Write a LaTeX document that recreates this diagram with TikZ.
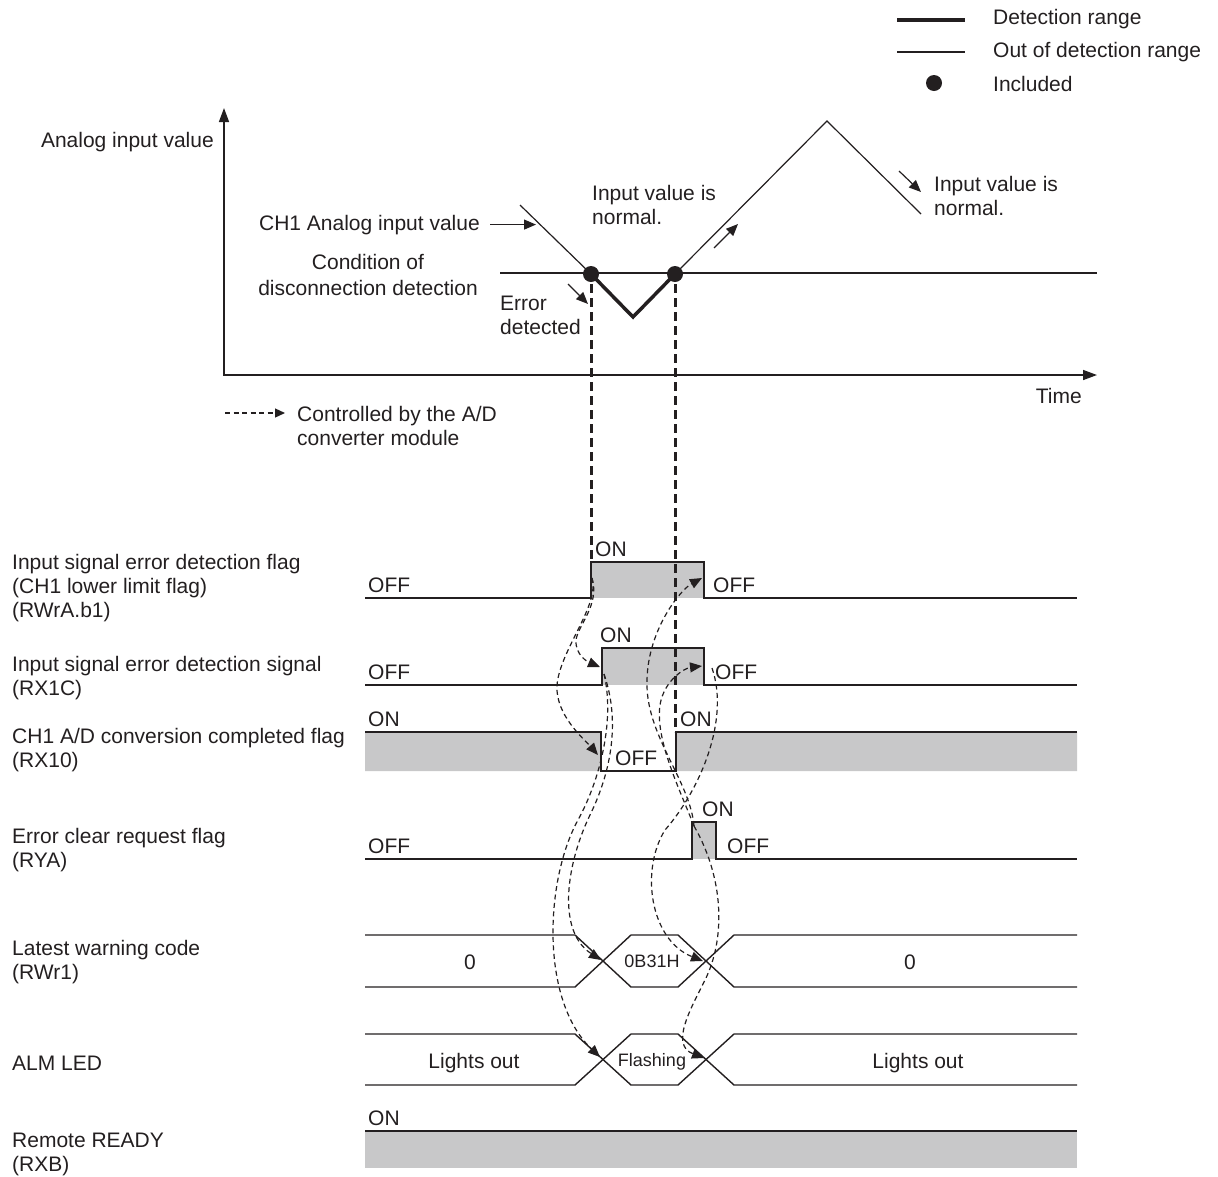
\documentclass[tikz,border=0pt]{standalone}
\usepackage{fontspec}
\setmainfont{Liberation Sans}
\usetikzlibrary{arrows.meta}
\definecolor{ink}{RGB}{35,31,32}
\definecolor{onfill}{RGB}{200,200,201}
\begin{document}
\begin{tikzpicture}[x=1pt, y=-1pt, font=\fontsize{21}{24}\selectfont, line join=miter, >={Triangle[length=12pt,width=10pt]},
	txt/.style={inner sep=0pt, text=ink, align=left, anchor=base west},
	small/.style={inner sep=0pt, text=ink, font=\fontsize{18}{20}\selectfont},
	sig/.style={draw=ink, line width=1.4pt},
	thin/.style={draw=ink, line width=1.2pt},
	ctl/.style={draw=ink, line width=1.2pt, dash pattern=on 5pt off 3.5pt, ->},
	det/.style={draw=ink, line width=3pt, dash pattern=on 9pt off 5pt}]
	\useasboundingbox (0,0) rectangle (1218,1176);
	% legend
	\draw[ink, line width=4.5pt] (897,20) -- (965,20);
	\node[txt] (lgdet) at (993,24) {Detection range};
	\draw[thin] (897,52) -- (965,52);
	\node[txt] (lgout) at (993,57) {Out of detection range};
	\fill[ink] (934,83) circle (8pt);
	\node[txt] (lginc) at (993,91) {Included};
	% analog input graph
	\draw[ink, line width=1.5pt, {Triangle[length=14pt,width=10pt]}-{Triangle[length=14pt,width=10pt]}] (224,108) -- (224,375) -- (1097,375);
	\node[txt, anchor=base east] (ylab) at (214,147) {Analog input value};
	\node[txt, anchor=base east] (xlab) at (1082,403) {Time};
	\draw[thin] (500,273) -- (1097,273);
	\draw[thin] (520,205) -- (591,274);
	\draw[thin] (675,274) -- (827,121) -- (921,214);
	\draw[ink, line width=3.5pt] (591,274) -- (633,317) -- (675,274);
	\fill[ink] (591,274) circle (8pt) (675,274) circle (8pt);
	\node[txt, anchor=base east] (ch1) at (480,230) {CH1 Analog input value};
	\draw[thin, ->] ([xshift=10pt]ch1.east) -- ([xshift=56pt]ch1.east);
	\node[txt, align=center, anchor=base] (cond) at (368,295) {Condition of\\[2pt]disconnection detection};
	\node[txt] (err) at (500,334) {Error\\detected};
	\node[txt] (nrm1) at (592,224) {Input value is\\normal.};
	\node[txt] (nrm2) at (934,215) {Input value is\\normal.};
	\draw[thin, ->] (568,284) -- (588,304);
	\draw[thin, ->] (714,248) -- (738,224);
	\draw[thin, ->] (899,171) -- (921,192);
	\draw[ctl, >={Triangle[length=10pt,width=9pt]}] (225,413) -- (285,413);
	\node[txt] (ctltxt) at (297,445) {Controlled by the A/D\\converter module};
	% signal names
	\node[txt] (lb1) at (12,617) {Input signal error detection flag\\(CH1 lower limit flag)\\(RWrA.b1)};
	\node[txt] (lb2) at (12,695) {Input signal error detection signal\\(RX1C)};
	\node[txt] (lb3) at (12,767) {CH1 A/D conversion completed flag\\(RX10)};
	\node[txt] (lb4) at (12,867) {Error clear request flag\\(RYA)};
	\node[txt] (lb5) at (12,979) {Latest warning code\\(RWr1)};
	\node[txt] (lb6) at (12,1070) {ALM LED};
	\node[txt] (lb7) at (12,1171) {Remote READY\\(RXB)};
	% timing rows
	\fill[onfill] (591,562) rectangle (704,598);
	\draw[sig] (365,598) -- (591,598) -- (591,562) -- (704,562) -- (704,598) -- (1077,598);
	\fill[onfill] (602,648) rectangle (704,685);
	\draw[sig] (365,685) -- (602,685) -- (602,648) -- (704,648) -- (704,685) -- (1077,685);
	\fill[onfill] (365,732) rectangle (601,771) (676,732) rectangle (1077,771);
	\draw[sig] (365,732) -- (601,732) -- (601,771) -- (676,771) -- (676,732) -- (1077,732);
	\fill[onfill] (692,822) rectangle (716,859);
	\draw[sig] (365,859) -- (692,859) -- (692,822) -- (716,822) -- (716,859) -- (1077,859);
	\foreach \t/\b in {935/987, 1034/1085}{
		\draw[sig] (365,\t) -- (575,\t) -- (631,\b) -- (678,\b) -- (734,\t) -- (1077,\t);
		\draw[sig] (365,\b) -- (575,\b) -- (631,\t) -- (678,\t) -- (734,\b) -- (1077,\b);
	}
	\fill[onfill] (365,1131) rectangle (1077,1168);
	\draw[sig] (365,1131) -- (1077,1131);
	% levels
	\node[txt] (off1a) at (368,592) {OFF};
	\node[txt] (on1) at (595,556) {ON};
	\node[txt] (off1b) at (713,592) {OFF};
	\node[txt] (off2a) at (368,679) {OFF};
	\node[txt] (on2) at (600,642) {ON};
	\node[txt] (off2b) at (715,679) {OFF};
	\node[txt] (on3a) at (368,726) {ON};
	\node[txt] (off3) at (615,765) {OFF};
	\node[txt] (on3b) at (680,726) {ON};
	\node[txt] (off4a) at (368,853) {OFF};
	\node[txt] (on4) at (702,816) {ON};
	\node[txt] (off4b) at (727,853) {OFF};
	\node[txt, anchor=base] (code0a) at (470,969) {0};
	\node[small, anchor=base] (code1) at (652,967) {0B31H};
	\node[txt, anchor=base] (code0b) at (910,969) {0};
	\node[txt, anchor=base] (led0a) at (474,1068) {Lights out};
	\node[small, anchor=base] (led1) at (652,1066) {Flashing};
	\node[txt, anchor=base] (led0b) at (918,1068) {Lights out};
	\node[txt] (on7) at (368,1125) {ON};
	% detection points down to the flags
	\draw[det] (591,284) -- (591,562);
	\draw[det] (675,284) -- (675,732);
	% events
	\coordinate (f1on) at (592,578);
	\coordinate (s1on) at (604,674);
	\coordinate (s1off) at (712,668);
	\coordinate (ryon) at (694,826);
	\draw[ctl] (f1on) .. controls (600,605) and (578,625) .. (576,640) .. controls (575,655) and (588,662) .. (600,667);
	\draw[ctl] (f1on) .. controls (600,605) and (560,650) .. (557,685) .. controls (555,715) and (585,740) .. (598,755);
	\draw[ctl] (s1on) .. controls (620,720) and (612,770) .. (590,815) .. controls (568,860) and (555,930) .. (601,960);
	\draw[ctl] (s1on) .. controls (615,720) and (600,780) .. (578,820) .. controls (545,880) and (540,1000) .. (600,1057);
	\draw[ctl] (ryon) .. controls (690,780) and (645,735) .. (647,680) .. controls (648,630) and (680,590) .. (702,578);
	\draw[ctl] (ryon) .. controls (680,790) and (655,740) .. (660,705) .. controls (664,680) and (685,668) .. (702,666);
	\draw[ctl] (s1off) .. controls (730,720) and (700,790) .. (665,830) .. controls (640,870) and (650,940) .. (703,961);
	\draw[ctl] (ryon) .. controls (725,880) and (725,940) .. (705,980) .. controls (690,1010) and (670,1045) .. (704,1058);
\end{tikzpicture}
\end{document}
